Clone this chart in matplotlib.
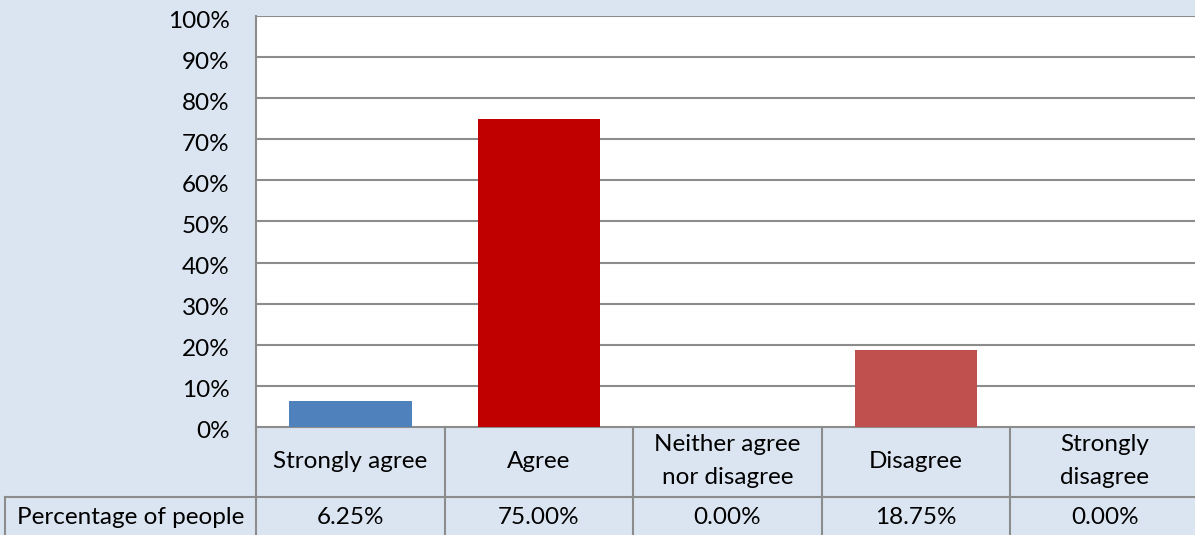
import matplotlib.pyplot as plt
from matplotlib.lines import Line2D
import matplotlib.transforms as mtransforms

plt.rcParams['font.family'] = ['Lato', 'DejaVu Sans']

# Data
categories = ['Strongly agree', 'Agree', 'Neither agree\nnor disagree', 'Disagree', 'Strongly\ndisagree']
values = [6.25, 75.00, 0.00, 18.75, 0.00]
bar_colors = ['#4F81BD', '#C00000', '#4F81BD', '#C0504D', '#4F81BD']
row_label = 'Percentage of people'
y_ticks = [0, 10, 20, 30, 40, 50, 60, 70, 80, 90, 100]

bg = '#DBE5F1'
grid_c = '#8C8C8C'
fs = 17.5
W, H = 1195, 535

fig = plt.figure(figsize=(W / 100, H / 100), dpi=100, facecolor=bg)
# plot area in pixels: left 256, right 1199, top 16, bottom 427
ax = fig.add_axes([256 / W, (H - 427) / H, (1199 - 256) / W, (427 - 16) / H])
ax.set_facecolor('white')

x = list(range(len(categories)))
ax.bar(x, values, width=0.65, color=bar_colors, zorder=3)

ax.set_xlim(-0.5, len(categories) - 0.5)
ax.set_ylim(0, 100)
ax.set_yticks(y_ticks)
ax.set_yticklabels([f'{t}%' for t in y_ticks])
ax.set_xticks([])
ax.tick_params(axis='y', length=0, pad=19, labelsize=fs)
# labels sit a touch below their gridlines in the original
shift = mtransforms.ScaledTranslation(0, -3 / 100, fig.dpi_scale_trans)
for lab in ax.get_yticklabels():
    lab.set_transform(lab.get_transform() + shift)
for t in y_ticks[1:]:
    ax.axhline(t, color=grid_c, lw=1.5, zorder=1)
for s in ['top', 'right']:
    ax.spines[s].set_visible(False)
ax.spines['left'].set_color(grid_c)
ax.spines['left'].set_linewidth(1.5)
ax.spines['bottom'].set_color(grid_c)
ax.spines['bottom'].set_linewidth(1.5)

# data table below the plot (x in data units, y in pixels converted to axes fraction)
def ypx(p):
    return (427 - p) / (427 - 16)

blend = mtransforms.blended_transform_factory(ax.transData, ax.transAxes)
left_cell = -0.5 - (256 - 5) / (1199 - 256) * len(categories)
kw = dict(color=grid_c, lw=1.5, clip_on=False)

# vertical borders
for i in range(len(categories) + 1):
    ax.add_line(Line2D([i - 0.5, i - 0.5], [ypx(427), ypx(540)], transform=blend, **kw))
ax.add_line(Line2D([left_cell, left_cell], [ypx(497), ypx(540)], transform=blend, **kw))
# horizontal border between rows
ax.add_line(Line2D([left_cell, len(categories) - 0.5], [ypx(497), ypx(497)], transform=blend, **kw))

for i, (cat, v) in enumerate(zip(categories, values)):
    ax.text(i, ypx(461), cat, transform=blend, ha='center', va='center',
            fontsize=fs, linespacing=1.7, color='black')
    ax.text(i, ypx(518), f'{v:.2f}%', transform=blend, ha='center', va='center',
            fontsize=fs, color='black')
ax.text((left_cell - 0.5) / 2, ypx(518), row_label, transform=blend, ha='center',
        va='center', fontsize=fs, color='black')

fig.savefig('out.png', dpi=100, facecolor=bg)
